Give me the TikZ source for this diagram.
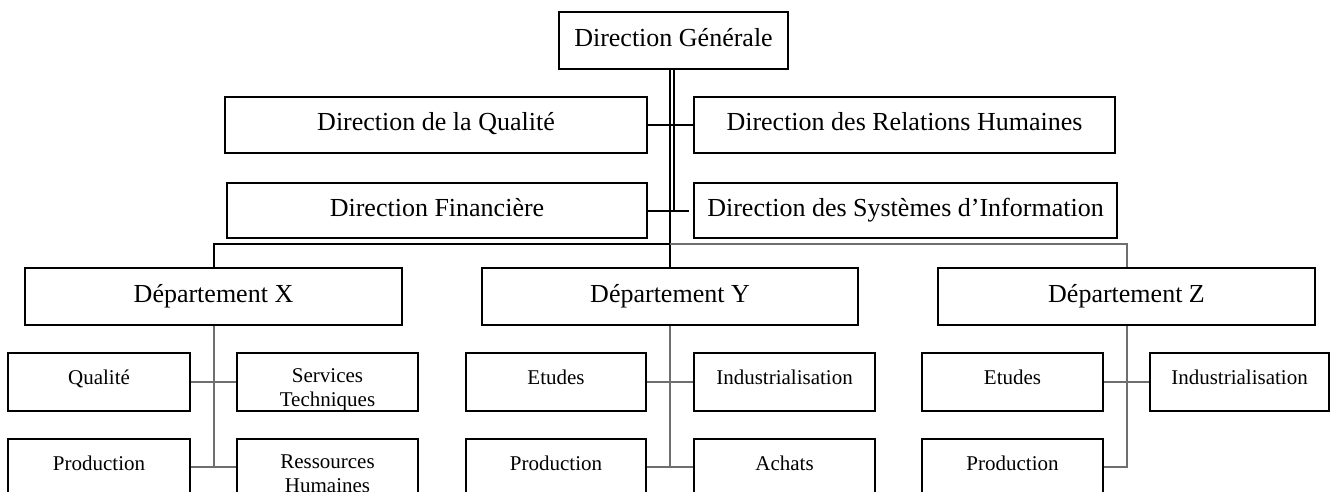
\documentclass[tikz,border=0pt]{standalone}
\usepackage{fontspec}
\setmainfont{Liberation Serif}
\definecolor{conngrey}{RGB}{110,110,110}
\begin{document}
\begin{tikzpicture}[x=1pt,y=-1pt,
  box/.style={draw=black,line width=2.6pt,fill=white,inner sep=0pt,align=center},
  big/.style={box,minimum height=56pt,font=\fontsize{26}{30}\selectfont,text height=18pt,text depth=6.8pt},
  small/.style={box,minimum height=58pt,font=\fontsize{21}{24}\selectfont,text height=15pt,text depth=11pt},
  twoline/.style={box,minimum height=58pt,font=\fontsize{21}{24}\selectfont,text height=20pt,text depth=20pt},
  blk/.style={draw=black,line width=2pt},
  gry/.style={draw=conngrey,line width=2pt}]
\useasboundingbox (0,0) rectangle (1336,491);
\clip (0,0) rectangle (1336,491);
% top level
\node[big,minimum width=229pt,minimum height=57pt] (DG) at (673.5,40.5) {Direction Générale};
\node[big,minimum width=422pt] (DQ) at (436,125) {Direction de la Qualité};
\node[big,minimum width=421pt] (DRH) at (904.5,125) {Direction des Relations Humaines};
\node[big,minimum width=420pt,minimum height=55pt] (DF) at (437,210.5) {Direction Financière};
\node[big,minimum width=423pt,minimum height=55pt] (DSI) at (905.5,210.5) {Direction des Systèmes d’Information};
% departments
\node[big,minimum width=377pt,minimum height=57pt] (DX) at (213.5,296.5) {Département X};
\node[big,minimum width=376pt,minimum height=57pt] (DY) at (670,296.5) {Département Y};
\node[big,minimum width=377pt,minimum height=57pt] (DZ) at (1126.5,296.5) {Département Z};
% sub departments X
\node[small,minimum width=182pt] (XQ) at (99,382) {Qualité};
\node[twoline,minimum width=181pt] (XS) at (327.5,382) {\begin{tabular}[t]{@{}c@{}}Services\\Techniques\end{tabular}};
\node[small,minimum width=182pt] (XP) at (99,468) {Production};
\node[twoline,minimum width=181pt] (XR) at (327.5,468) {\begin{tabular}[t]{@{}c@{}}Ressources\\Humaines\end{tabular}};
% sub departments Y
\node[small,minimum width=180pt] (YE) at (556,382) {Etudes};
\node[small,minimum width=181pt] (YI) at (784.5,382) {Industrialisation};
\node[small,minimum width=180pt] (YP) at (556,468) {Production};
\node[small,minimum width=181pt] (YA) at (784.5,468) {Achats};
% sub departments Z
\node[small,minimum width=181pt] (ZE) at (1012.5,382) {Etudes};
\node[small,minimum width=179pt] (ZI) at (1239.5,382) {Industrialisation};
\node[small,minimum width=181pt] (ZP) at (1012.5,468) {Production};
% connectors top
\coordinate (bus) at (670,244);
\coordinate (j2) at (674,210);
\draw[blk] (DG.south -| DY.north) -- (DY.north);
\draw[blk] (DG.south -| j2) -- (j2);
\draw[blk] (DQ.east) -- (DRH.west);
\draw[blk] (DF.east) -- ([xshift=-4pt]DSI.west);
\draw[blk] (DX.north) -- (DX.north |- bus) -- (bus);
\draw[gry] (bus) -- (bus -| DZ.north) -- (DZ.north);
% connectors X
\coordinate (xb) at (213.5,467);
\draw[gry] (DX.south) -- (xb);
\draw[gry] (XQ.east) -- (XS.west);
\draw[gry] (XP.east |- xb) -- (XR.west |- xb);
% connectors Y
\coordinate (yb) at (670,467);
\draw[gry] (DY.south) -- (yb);
\draw[gry] (YE.east) -- (YI.west);
\draw[gry] (YP.east |- yb) -- (YA.west |- yb);
% connectors Z
\coordinate (zb) at (1126.5,467);
\draw[gry] (DZ.south) -- (zb) -- (ZP.east |- zb);
\draw[gry] (ZE.east) -- (ZI.west);
\end{tikzpicture}
\end{document}
